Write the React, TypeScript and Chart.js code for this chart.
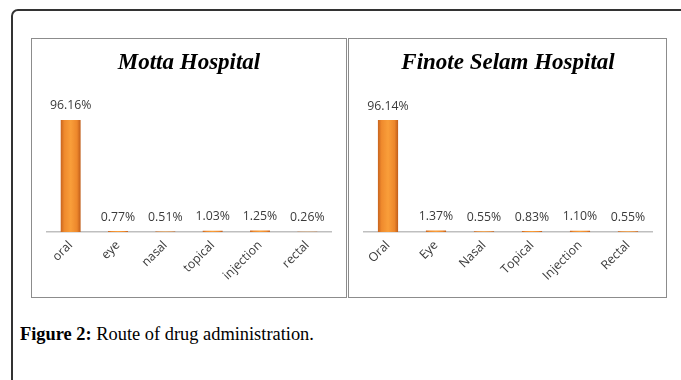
import React, { useEffect, useRef } from "react";
import { Chart, registerables } from "chart.js";

Chart.register(...registerables);

const mottaTitle = "Motta Hospital";
const mottaCategories = ["oral", "eye", "nasal", "topical", "injection", "rectal"];
const mottaValues = [96.16, 0.77, 0.51, 1.03, 1.25, 0.26];

const finoteTitle = "Finote Selam Hospital";
const finoteCategories = ["Oral", "Eye", "Nasal", "Topical", "Injection", "Rectal"];
const finoteValues = [96.14, 1.37, 0.55, 0.83, 1.1, 0.55];

const captionBold = "Figure 2:";
const captionText = " Route of drug administration.";

const BAR_FRACTION = 0.42;

const valueLabels = {
  id: "valueLabels",
  afterDatasetsDraw(chart: any) {
    const ctx = chart.ctx;
    const meta = chart.getDatasetMeta(0);
    const data = chart.data.datasets[0].data as number[];
    ctx.save();
    ctx.font = '12.3px "Open Sans"';
    ctx.fillStyle = "#3A3A3A";
    ctx.textAlign = "center";
    ctx.textBaseline = "middle";
    meta.data.forEach((el: any, i: number) => {
      ctx.fillText(`${data[i].toFixed(2)}%`, el.x, el.y - 14);
    });
    ctx.restore();
  },
};

function barFill(context: any) {
  const chart = context.chart;
  const xs = chart.scales.x;
  if (!xs || !chart.chartArea) return "#F39233";
  const cx = xs.getPixelForValue(context.dataIndex);
  const w = (xs.width / chart.data.labels.length) * BAR_FRACTION;
  const g = chart.ctx.createLinearGradient(cx - w / 2, 0, cx + w / 2, 0);
  g.addColorStop(0, "#C8641E");
  g.addColorStop(0.18, "#EF8A2D");
  g.addColorStop(0.5, "#F99E3A");
  g.addColorStop(0.82, "#ED872B");
  g.addColorStop(1, "#C05D1A");
  return g;
}

function Panel(props: {
  title: string;
  labels: string[];
  values: number[];
  left: number;
  width: number;
  padRight: number;
}) {
  const ref = useRef<HTMLCanvasElement>(null);
  useEffect(() => {
    if (!ref.current) return;
    const chart = new Chart(ref.current, {
      type: "bar",
      data: {
        labels: props.labels,
        datasets: [
          {
            data: props.values,
            backgroundColor: barFill,
            borderWidth: 0,
            categoryPercentage: 1,
            barPercentage: BAR_FRACTION,
          },
        ],
      },
      options: {
        responsive: false,
        animation: false,
        devicePixelRatio: 1,
        layout: { padding: { left: 15, right: props.padRight, top: 0, bottom: 0 } },
        plugins: {
          legend: { display: false },
          tooltip: { enabled: false },
          title: {
            display: true,
            text: props.title,
            color: "#000",
            font: { family: '"Liberation Serif"', size: 23, style: "italic", weight: "bold" },
            padding: { top: 10.7, bottom: 38.2 },
          },
        },
        scales: {
          y: { display: false, min: 0, max: 100 },
          x: {
            grid: { display: false, drawTicks: false },
            border: { display: true, color: "#BFBFBF", width: 1.5 },
            ticks: {
              minRotation: 45,
              maxRotation: 45,
              padding: 6,
              color: "#3A3A3A",
              font: { family: '"Open Sans"', size: 12.3 },
            },
            afterFit: (s: any) => {
              s.height = 65;
              s.paddingLeft = 0;
              s.paddingRight = 0;
            },
          },
        },
      },
      plugins: [valueLabels],
    });
    return () => chart.destroy();
  }, []);
  return (
    <div
      style={{
        position: "absolute",
        left: props.left,
        top: 38,
        width: props.width,
        height: 258,
        border: "1px solid #8C8C8C",
        background: "#fff",
      }}
    >
      <canvas ref={ref} width={props.width} height={258} style={{ display: "block" }} />
    </div>
  );
}

export default function App() {
  return (
    <div
      style={{
        position: "absolute",
        left: 0,
        top: 0,
        width: 681,
        height: 380,
        overflow: "hidden",
        background: "#fff",
      }}
    >
      <div
        style={{
          position: "absolute",
          left: 11,
          top: 9,
          width: 720,
          height: 420,
          border: "2px solid #333",
          borderRadius: 7,
          boxSizing: "border-box",
        }}
      />
      <Panel title={mottaTitle} labels={mottaCategories} values={mottaValues} left={31} width={314} padRight={15} />
      <Panel title={finoteTitle} labels={finoteCategories} values={finoteValues} left={348} width={317} padRight={14} />
      <div
        style={{
          position: "absolute",
          left: 20,
          top: 323,
          fontFamily: '"Liberation Serif", serif',
          fontSize: 18.4,
          lineHeight: "22px",
          color: "#000",
          whiteSpace: "nowrap",
        }}
      >
        <b>{captionBold}</b>
        {captionText}
      </div>
    </div>
  );
}
